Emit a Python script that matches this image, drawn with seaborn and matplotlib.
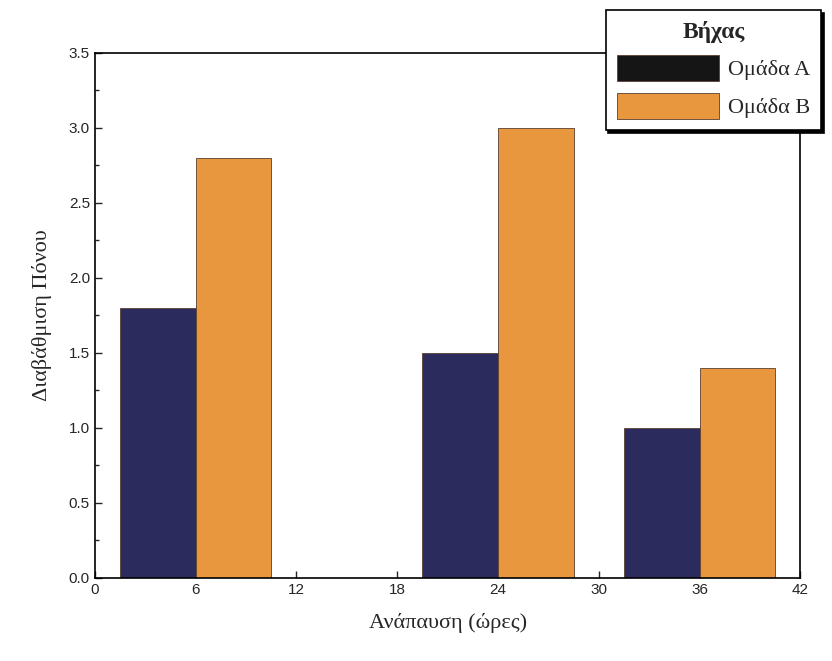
import pandas as pd
import matplotlib.pyplot as plt
import seaborn as sns
from matplotlib.ticker import MultipleLocator

# data
hours = [6, 24, 36]
group_a = [1.8, 1.5, 1.0]
group_b = [2.8, 3.0, 1.4]
group_names = ["Ομάδα A", "Ομάδα B"]
x_ticks = [0, 6, 12, 18, 24, 30, 36, 42]

df = pd.DataFrame({
    "hours": hours * 2,
    "score": group_a + group_b,
    "group": [group_names[0]] * len(hours) + [group_names[1]] * len(hours),
})

sns.set_style("ticks")
plt.rcParams["font.family"] = ["Liberation Sans", "DejaVu Sans"]

fig = plt.figure(figsize=(8.32, 6.61), dpi=100)
ax = fig.add_axes([0.114, 0.126, 0.848, 0.794])

palette = {group_names[0]: "#2c2b5e", group_names[1]: "#e8973f"}
sns.barplot(data=df, x="hours", y="score", hue="group", palette=palette,
            native_scale=True, width=0.75, saturation=1,
            edgecolor="#5a4030", linewidth=0.6, ax=ax)

ax.set_xlim(0, 42)
ax.set_ylim(0, 3.5)
ax.set_xticks(x_ticks)
ax.set_xticklabels([str(t) for t in x_ticks])
ax.yaxis.set_major_locator(MultipleLocator(0.5))
ax.yaxis.set_minor_locator(MultipleLocator(0.25))
ax.yaxis.set_major_formatter(plt.FormatStrFormatter("%.1f"))
ax.tick_params(direction="in", which="both", labelsize=11, width=1)
ax.tick_params(which="major", length=5)
ax.tick_params(which="minor", length=3)
for s in ax.spines.values():
    s.set_visible(True)
    s.set_linewidth(1.2)
    s.set_color("black")

serif = ["Liberation Serif", "DejaVu Serif"]
ax.set_xlabel("Ανάπαυση (ώρες)", fontsize=16, family=serif, labelpad=12)
ax.set_ylabel("Διαβάθμιση Πόνου", fontsize=16, family=serif, labelpad=12)

handles, labels = ax.get_legend_handles_labels()
ax.get_legend().remove()
leg = fig.legend(handles, labels, title="Βήχας", loc="upper left",
                 bbox_to_anchor=(0.728, 0.985), bbox_transform=fig.transFigure,
                 frameon=True, fancybox=False, shadow={"color": "black", "alpha": 1},
                 prop={"family": serif, "size": 16},
                 title_fontproperties={"family": serif, "size": 17, "weight": "bold"},
                 handlelength=4.6, handleheight=1.4, handletextpad=0.4,
                 borderpad=0.5, labelspacing=0.55, borderaxespad=0)
leg.get_frame().set_edgecolor("black")
leg.get_frame().set_linewidth(1.2)
leg.legend_handles[0].set_facecolor("#151515")

fig.savefig("out.png", dpi=100)
